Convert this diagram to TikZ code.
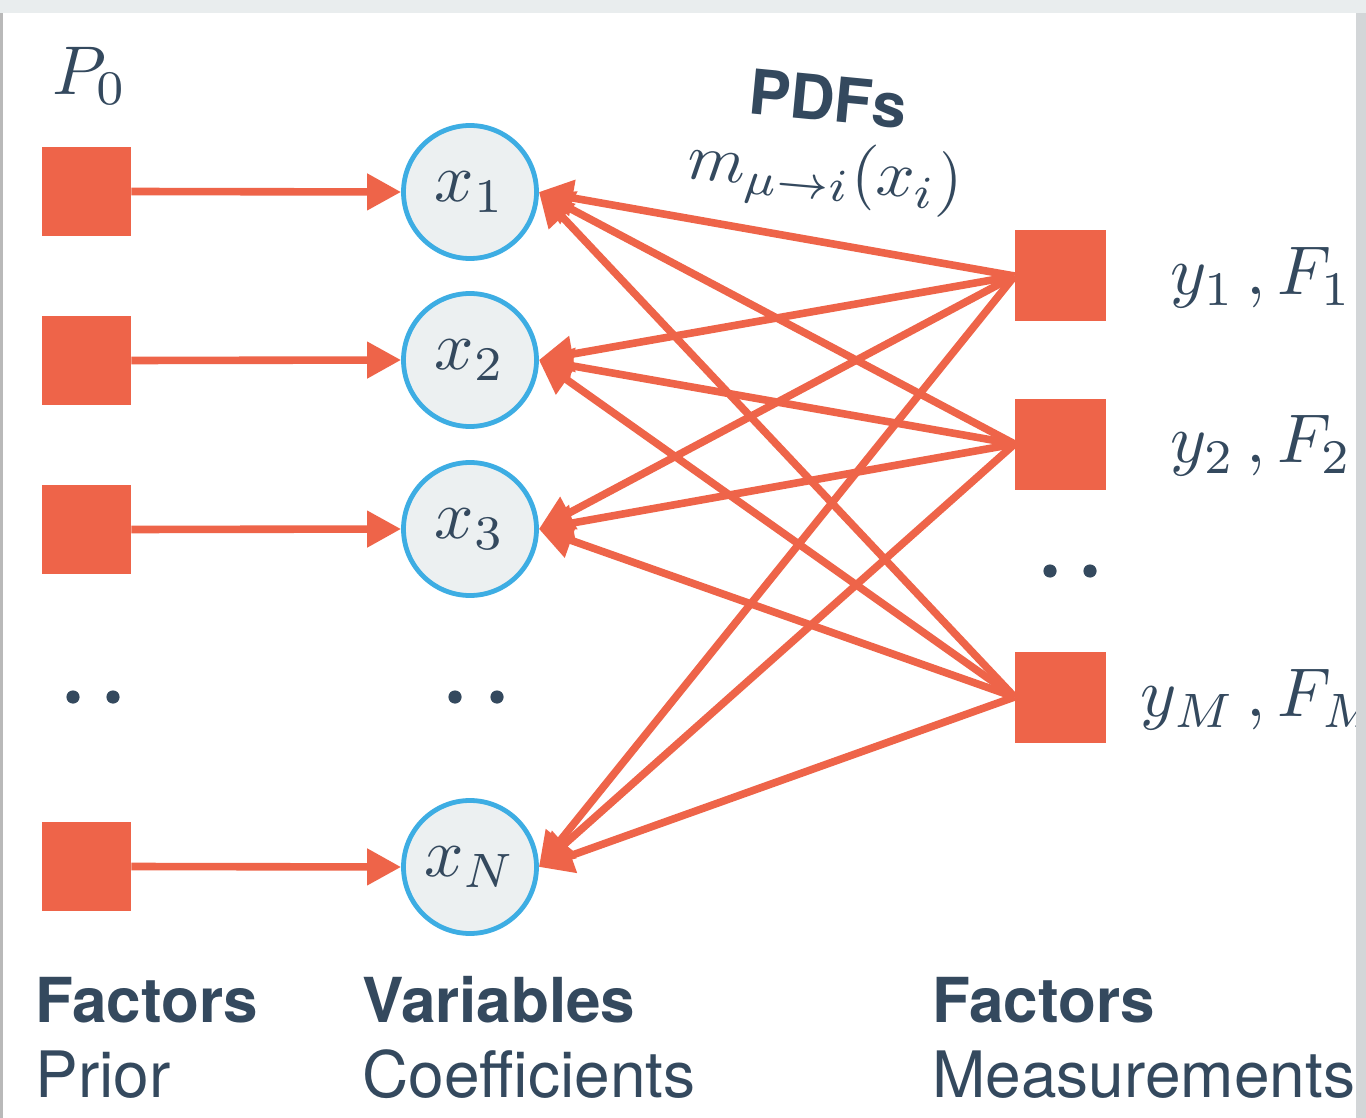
\documentclass[tikz,border=0pt]{standalone}
\usepackage{graphicx}
\usepackage{fontspec}
\setsansfont{TeX Gyre Heros}
\usetikzlibrary{arrows.meta}
\definecolor{facred}{HTML}{EE6449}
\definecolor{varfill}{HTML}{ECF0F1}
\definecolor{varblue}{HTML}{3DADE3}
\definecolor{ink}{HTML}{34495E}
\definecolor{pagegrey}{HTML}{E9EDEE}
\definecolor{edgegrey}{HTML}{D3D6D8}
\newcommand{\bigmath}[1]{\scalebox{3.45}{$#1$}}

\begin{document}
\begin{tikzpicture}[x=0.5pt,y=-0.5pt]
    \tikzstyle{facbox}=[fill=facred,minimum size=44.5pt,inner sep=0pt]
    \tikzstyle{varnode}=[circle,draw=varblue,fill=varfill,line width=2.4pt,
        minimum size=66.5pt,inner sep=0pt,text=ink]
    \tikzstyle{msg}=[facred,line width=3.8pt,-{Triangle[length=17pt,width=17.5pt]}]
    \tikzstyle{mathlabel}=[text=ink,inner sep=0pt]
    \tikzstyle{capbold}=[text=ink,inner sep=0pt,anchor=base west,
        font=\sffamily\bfseries\fontsize{31}{36}\selectfont]
    \tikzstyle{capplain}=[text=ink,inner sep=0pt,anchor=base west,
        font=\sffamily\fontsize{32}{36}\selectfont]
    \useasboundingbox (0,0) rectangle (1366,1118);
    % Page
    \fill[pagegrey] (0,0) rectangle (1366,1118);
    \fill[white] (3,13) rectangle (1356,1118);
    \fill[gray!55] (0,13) rectangle (3,1118);
    % Prior factors
    \node[facbox] (p1) at (86.5,191.5) {};
    \node[facbox] (p2) at (86.5,360.5) {};
    \node[facbox] (p3) at (86.5,529.5) {};
    \node[facbox] (pN) at (86.5,866.5) {};
    \node[mathlabel] (P0) at (90,76) {\bigmath{P_0}};
    % Variables
    \node[varnode] (x1) at (470,192) {\bigmath{x_1}};
    \node[varnode] (x2) at (470,360) {\bigmath{x_2}};
    \node[varnode] (x3) at (470,529) {\bigmath{x_3}};
    \node[varnode] (xN) at (470,867) {\bigmath{x_N}};
    % Measurement factors
    \node[facbox,minimum size=45.5pt] (f1) at (1060.5,276) {};
    \node[facbox,minimum size=45.5pt] (f2) at (1060.5,444) {};
    \node[facbox,minimum size=45.5pt] (fM) at (1060.5,697) {};
    \node[mathlabel,anchor=west] (l1) at (1170,278) {\bigmath{y_1\,, F_1}};
    \node[mathlabel,anchor=west] (l2) at (1170,446) {\bigmath{y_2\,, F_2}};
    \node[mathlabel,anchor=west] (lM) at (1140,700) {\bigmath{y_M\,, F_M}};
    % Dots
    \fill[ink] (73,697) circle (3.3pt) (113,697) circle (3.3pt);
    \fill[ink] (455,697) circle (3.3pt) (497,697) circle (3.3pt);
    \fill[ink] (1050,571) circle (3.3pt) (1090,571) circle (3.3pt);
    % Messages
    \foreach \p/\v in {p1/x1,p2/x2,p3/x3,pN/xN}
        \draw[msg] (\p.east) -- (\v.west);
    \foreach \f in {f1,f2,fM}
        \foreach \v in {x1,x2,x3,xN}
            \draw[msg] (\f.west) -- (\v.east);
    \node[text=ink,rotate=-5.5,font=\sffamily\bfseries\fontsize{31}{36}\selectfont]
        (pdfs) at (828,99) {PDFs};
    \node[mathlabel,rotate=-5] (msgm) at (825,175) {\scalebox{3.3}{$m_{\mu\to i}(x_i)$}};
    % Captions
    \node[capbold] (c1) at (35,1022) {Factors};
    \node[capplain] (c2) at (35,1097) {Prior};
    \node[capbold] (c3) at (362,1022) {Variables};
    \node[capplain] (c4) at (362,1097) {Coefficients};
    \node[capbold] (c5) at (932,1022) {Factors};
    \node[capplain] (c6) at (932,1097) {Measurements};
    % Right edge
    \fill[edgegrey] (1356,13) rectangle (1366,1118);
\end{tikzpicture}
\end{document}
